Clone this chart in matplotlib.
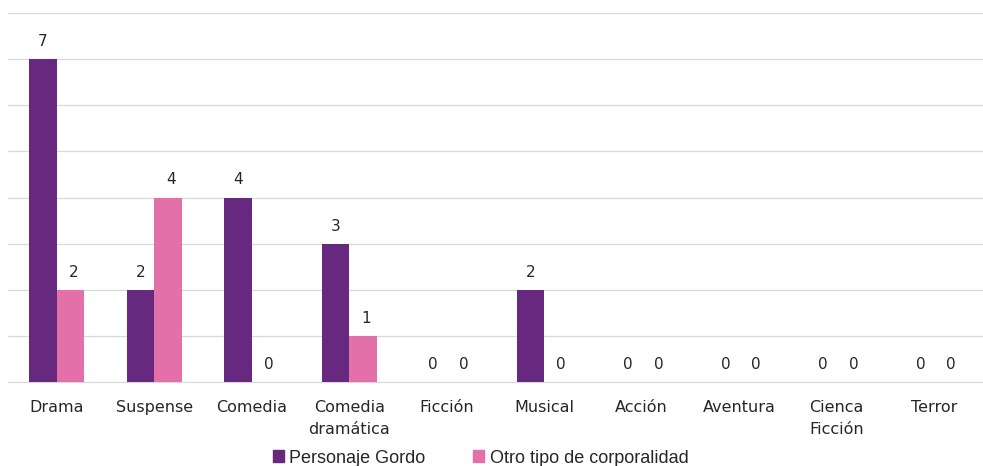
import numpy as np
import matplotlib.pyplot as plt
from matplotlib.patches import Patch

categorias = ['Drama', 'Suspense', 'Comedia', 'Comedia\ndramática', 'Ficción',
              'Musical', 'Acción', 'Aventura', 'Cienca\nFicción', 'Terror']
gordo = [7, 2, 4, 3, 0, 2, 0, 0, 0, 0]
otro = [2, 4, 0, 1, 0, 0, 0, 0, 0, 0]

c_gordo = '#66297f'
c_otro = '#e370a9'

plt.rcParams['font.family'] = 'DejaVu Sans'

fig = plt.figure(figsize=(9.83, 4.66), dpi=100)
ax = fig.add_axes([0.008, 0.180, 0.992, 0.792])

x = np.arange(len(categorias))
w = 0.283
ax.bar(x - w / 2, gordo, w, color=c_gordo, zorder=3)
ax.bar(x + w / 2, otro, w, color=c_otro, zorder=3)

for i in range(len(categorias)):
    ax.text(x[i] - w / 2, gordo[i] + 0.22, str(gordo[i]), ha='center', va='bottom',
            fontsize=11, color='#262626')
    ax.text(x[i] + w / 2 + 0.03, otro[i] + 0.22, str(otro[i]), ha='center', va='bottom',
            fontsize=11, color='#262626')

ax.set_xlim(-0.5, len(categorias) - 0.5)
ax.set_ylim(0, 8)
ax.set_yticks(range(0, 9))
ax.yaxis.grid(True, color='#d9d9d9', linewidth=0.9, zorder=0)
ax.tick_params(axis='y', left=False, labelleft=False)
ax.tick_params(axis='x', length=0, pad=13, labelsize=11.5, labelcolor='#262626')
ax.set_xticks(x)
ax.set_xticklabels(categorias, linespacing=1.55)
for lbl in ax.get_xticklabels():
    lbl.set_verticalalignment('top')
for s in ['top', 'right', 'left']:
    ax.spines[s].set_visible(False)
ax.spines['bottom'].set_color('#d9d9d9')

handles = [Patch(color=c_gordo, label='Personaje Gordo'),
           Patch(color=c_otro, label='Otro tipo de corporalidad')]
fig.legend(handles=handles, loc='center', bbox_to_anchor=(0.489, 0.017), ncol=2,
           frameon=False, prop={'family': 'Liberation Sans', 'size': 13},
           handlelength=0.6, handleheight=0.6, handletextpad=0.3, columnspacing=2.65,
           labelcolor='#262626')

fig.savefig('out.png', dpi=100)
